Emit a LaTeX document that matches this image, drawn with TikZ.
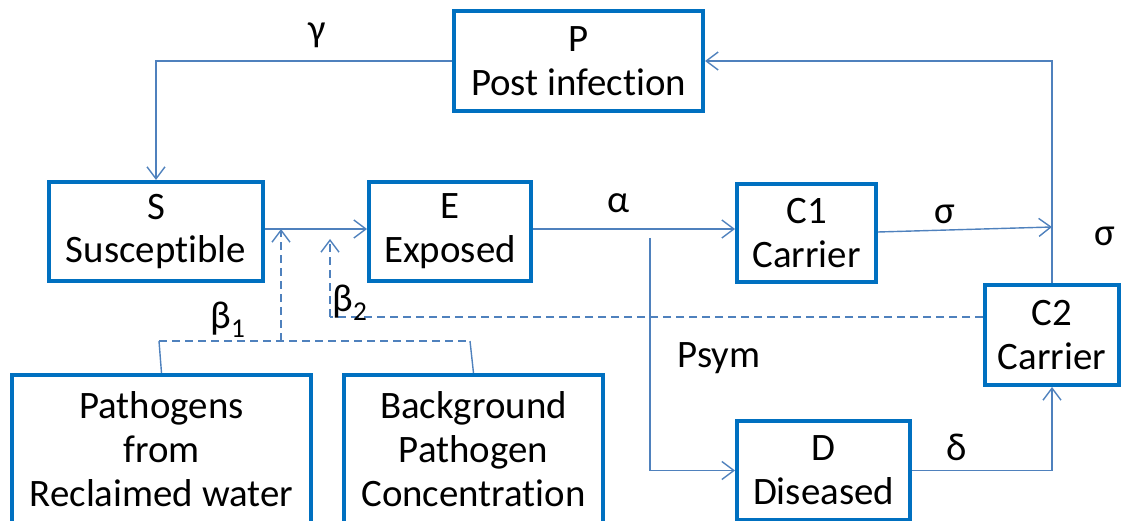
\documentclass[tikz,border=0pt]{standalone}
\usepackage{fontspec}
\setmainfont{Carlito}[Ligatures=NoCommon]
\usetikzlibrary{arrows.meta}
\definecolor{boxblue}{HTML}{0070C0}
\definecolor{lineblue}{HTML}{4F81BD}
\begin{document}
\begin{tikzpicture}[x=1bp,y=-1bp,
  box/.style={draw=boxblue, line width=4bp, fill=white, inner sep=0pt, align=center,
    font=\fontsize{39}{44}\selectfont},
  conn/.style={draw=lineblue, line width=1.4bp},
  arr/.style={conn, -{Straight Barb[length=12bp,width=18bp,line width=1.4bp]}},
  dashline/.style={dash pattern=on 8bp off 5bp},
  lbl/.style={inner sep=0pt, font=\fontsize{39}{44}\selectfont}]
\useasboundingbox (0,0) rectangle (1121,521);
\clip (0,0) rectangle (1121,521);
% nodes
\node[box, minimum width=249bp, minimum height=100bp] (P) at (578.5,61) {P\\Post infection};
\node[box, minimum width=214bp, minimum height=99bp] (S) at (156,231.5) {S\\Susceptible};
\node[box, minimum width=162bp, minimum height=99bp] (E) at (450,231.5) {E\\Exposed};
\node[box, minimum width=139bp, minimum height=98bp] (C1) at (806.5,233) {C1\\Carrier};
\node[box, minimum width=134bp, minimum height=100bp] (C2) at (1052,335) {C2\\Carrier};
\node[box, minimum width=173bp, minimum height=99bp] (D) at (823.5,470.5) {D\\Diseased};
\node[box, minimum width=299bp, minimum height=148bp] (PW) at (161.5,449) {Pathogens\\from\\Reclaimed water};
\node[box, minimum width=259bp, minimum height=148bp] (BG) at (473.5,449) {Background\\Pathogen\\Concentration};
% helper coordinates
\coordinate (r1) at (0,229);
\coordinate (br) at (650,238);
\coordinate (c1o) at (0,232);
\coordinate (c2i) at (1052,227);
\coordinate (d2) at (0,317);
\coordinate (d2t) at (330,317);
\coordinate (d2e) at (330,239);
\coordinate (b1) at (159,341);
\coordinate (b2) at (470,341);
\coordinate (bm) at (281,341);
\coordinate (bme) at (281,229);
% connectors
\draw[arr] (P.west) -| (S.north);
\draw[arr] (S.east |- r1) -- (E.west |- r1);
\draw[arr] (E.east |- r1) -- (C1.west |- r1);
\draw[arr] (br) |- (D.west);
\draw[arr] (C1.east |- c1o) -- (c2i);
\draw[arr] (C2.north) |- (P.east);
\draw[arr] (D.east) -| (C2.south);
\draw[conn,dashline] (C2.west |- d2) -- (d2t);
\draw[arr,dashline] (d2t) -- (d2e);
\draw[conn] (PW.north) -- (b1);
\draw[conn] (BG.north) -- (b2);
\draw[conn,dashline] (b1) -- (b2);
\draw[arr,dashline] (bm) -- (bme);
% labels
\node[lbl] (lg) at (317,35) {γ};
\node[lbl] (la) at (619,203) {α};
\node[lbl] (ls1) at (945,214) {σ};
\node[lbl] (ls2) at (1105,236) {σ};
\node[lbl] (lp) at (719,358) {Psym};
\node[lbl] (ld) at (957,447) {δ};
\node[lbl] (lb1) at (228,320) {β\textsubscript{1}};
\node[lbl] (lb2) at (350,303) {β\textsubscript{2}};
\end{tikzpicture}
\end{document}
